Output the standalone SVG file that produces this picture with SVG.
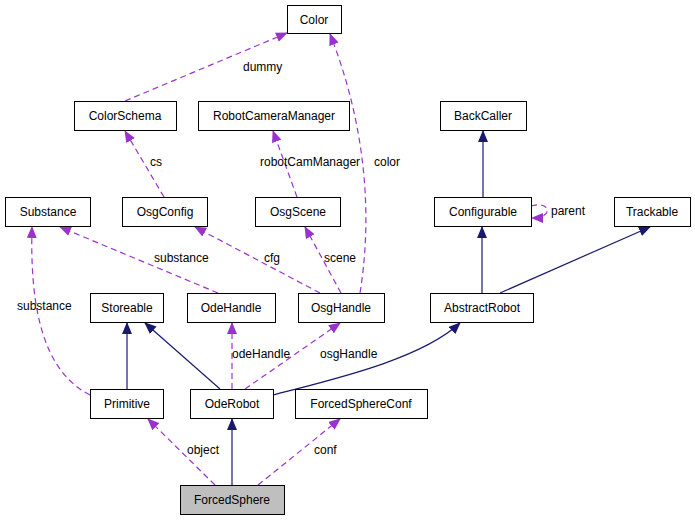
<svg xmlns="http://www.w3.org/2000/svg" width="695" height="520" viewBox="0 0 695 520">
<style>
.n rect{fill:#fff;stroke:#000;stroke-width:1}
text{font-family:"Liberation Sans",Arial,sans-serif;font-size:12px;fill:#000}
.n text{text-anchor:middle}
.u{fill:none;stroke:#9a32cd;stroke-width:1.2;stroke-dasharray:6,4;marker-end:url(#pa)}
.i{fill:none;stroke:#191970;stroke-width:1.2;marker-end:url(#na)}
</style>
<defs>
<marker id="pa" markerWidth="12" markerHeight="10" refX="11" refY="5" orient="auto" markerUnits="userSpaceOnUse"><path d="M0,0L12,5L0,10z" fill="#9a32cd"/></marker>
<marker id="na" markerWidth="12" markerHeight="10" refX="11" refY="5" orient="auto" markerUnits="userSpaceOnUse"><path d="M0,0L12,5L0,10z" fill="#191970"/></marker>
</defs>
<rect width="695" height="520" fill="#fff"/>
<g id="connectors">
<path class="u" d="M125,101L287,33"/>
<path class="u" d="M164,197L125,131"/>
<path class="u" d="M297,197L273,131"/>
<path class="u" d="M360,293C375,200 360,110 330,34"/>
<path class="u" d="M320,293L195,227"/>
<path class="u" d="M341,293L305,227"/>
<path class="u" d="M218,293L60,227"/>
<path class="u" d="M90,395C40,370 30,300 32,227"/>
<path class="u" d="M232,389L232,323"/>
<path class="u" d="M245,389L340,323"/>
<path class="u" d="M215,485L148,419"/>
<path class="u" d="M258,485L340,419"/>
<path class="u" d="M531,206C550,200 555,218 532,218"/>
<path class="i" d="M483,197L483,131"/>
<path class="i" d="M482,293L482,227"/>
<path class="i" d="M500,293L650,227"/>
<path class="i" d="M127,389L127,323"/>
<path class="i" d="M220,389L145,323"/>
<path class="i" d="M273,395C330,380 420,360 460,323"/>
<path class="i" d="M232,485L232,419"/>
<text x="243" y="71">dummy</text>
<text x="150" y="166">cs</text>
<text x="260" y="166">robotCamManager</text>
<text x="374" y="166">color</text>
<text x="264" y="262">cfg</text>
<text x="324" y="262">scene</text>
<text x="154" y="262">substance</text>
<text x="17" y="310">substance</text>
<text x="232" y="358">odeHandle</text>
<text x="320" y="358">osgHandle</text>
<text x="187" y="454">object</text>
<text x="314" y="454">conf</text>
<text x="551" y="215">parent</text>
</g>
<g id="Color" class="n"><rect x="287.5" y="5.5" width="54" height="28"/><text x="314" y="24">Color</text></g>
<g id="ColorSchema" class="n"><rect x="74.5" y="101.5" width="102" height="29"/><text x="125" y="120">ColorSchema</text></g>
<g id="RobotCameraManager" class="n"><rect x="198.5" y="101.5" width="151" height="29"/><text x="274" y="120">RobotCameraManager</text></g>
<g id="BackCaller" class="n"><rect x="440.5" y="101.5" width="86" height="29"/><text x="483" y="120">BackCaller</text></g>
<g id="Substance" class="n"><rect x="5.5" y="197.5" width="85" height="29"/><text x="48" y="216">Substance</text></g>
<g id="OsgConfig" class="n"><rect x="122.5" y="197.5" width="85" height="29"/><text x="165" y="216">OsgConfig</text></g>
<g id="OsgScene" class="n"><rect x="255.5" y="197.5" width="85" height="29"/><text x="298" y="216">OsgScene</text></g>
<g id="Configurable" class="n"><rect x="434.5" y="197.5" width="97" height="29"/><text x="483" y="216">Configurable</text></g>
<g id="Trackable" class="n"><rect x="614.5" y="197.5" width="76" height="29"/><text x="652" y="216">Trackable</text></g>
<g id="Storeable" class="n"><rect x="90.5" y="293.5" width="73" height="29"/><text x="127" y="312">Storeable</text></g>
<g id="OdeHandle" class="n"><rect x="187.5" y="293.5" width="88" height="29"/><text x="231" y="312">OdeHandle</text></g>
<g id="OsgHandle" class="n"><rect x="298.5" y="293.5" width="86" height="29"/><text x="341" y="312">OsgHandle</text></g>
<g id="AbstractRobot" class="n"><rect x="430.5" y="293.5" width="103" height="29"/><text x="482" y="312">AbstractRobot</text></g>
<g id="Primitive" class="n"><rect x="90.5" y="389.5" width="73" height="29"/><text x="127" y="408">Primitive</text></g>
<g id="OdeRobot" class="n"><rect x="190.5" y="389.5" width="83" height="29"/><text x="232" y="408">OdeRobot</text></g>
<g id="ForcedSphereConf" class="n"><rect x="295.5" y="389.5" width="132" height="29"/><text x="361" y="408">ForcedSphereConf</text></g>
<g id="ForcedSphere" class="n"><rect x="180.5" y="485.5" width="104" height="29" style="fill:#bfbfbf"/><text x="232" y="504">ForcedSphere</text></g>
</svg>
